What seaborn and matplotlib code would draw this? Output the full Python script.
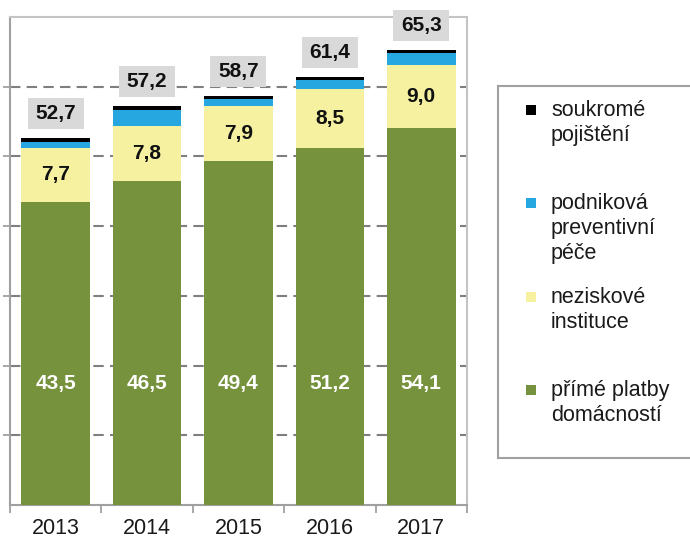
import matplotlib
matplotlib.use("Agg")
import matplotlib.pyplot as plt
import seaborn as sns
import numpy as np
import pandas as pd
from matplotlib.patches import Rectangle

# ---- data ----
years = ["2013", "2014", "2015", "2016", "2017"]
prime_platby = [43.5, 46.5, 49.4, 51.2, 54.1]
neziskove = [7.7, 7.8, 7.9, 8.5, 9.0]
podnikova = [0.9, 2.3, 0.9, 1.2, 1.8]
soukrome = [0.6, 0.6, 0.5, 0.5, 0.4]
totals = [52.7, 57.2, 58.7, 61.4, 65.3]
series_names = ["přímé platby\ndomácností", "neziskové\ninstituce",
                "podniková\npreventivní\npéče", "soukromé\npojištění"]
colors = ["#76923c", "#f5f1a0", "#27a7df", "#000000"]

sns.set_theme(style="white")
plt.rcParams['font.family'] = ['Liberation Sans', 'DejaVu Sans']

W, H = 690, 537
fig = plt.figure(figsize=(W / 100, H / 100), dpi=100)
ax = fig.add_axes([10 / W, (H - 505) / H, 457 / W, 488 / H])

layers = np.array([prime_platby, neziskove, podnikova, soukrome])
cum = np.cumsum(layers, axis=0)
for i in range(len(layers) - 1, -1, -1):
    df = pd.DataFrame({"year": years, "v": cum[i]})
    sns.barplot(data=df, x="year", y="v", color=colors[i], saturation=1,
                width=0.75, ax=ax, errorbar=None, linewidth=0, edgecolor="none",
                zorder=3)

ax.set_xlim(-0.5, len(years) - 0.5)
ax.set_ylim(0, 70)
ax.set_xlabel("")
ax.set_ylabel("")

# grid and ticks
ax.set_yticks(np.arange(10, 70, 10))
ax.set_yticklabels([])
ax.yaxis.grid(True, linestyle=(0, (5, 3)), color="#7f7f7f", linewidth=1.5, zorder=0)
ax.xaxis.grid(False)
ax.set_axisbelow(True)
ax.tick_params(axis="y", which="major", left=True, length=5, width=1.3,
               color="#a0a0a0", direction="out")
ax.set_xticks(range(len(years)))
ax.set_xticklabels(years, fontsize=15.5, color="#1a1a1a")
ax.tick_params(axis="x", which="major", length=0, pad=9)
ax.set_xticks(np.arange(-0.5, len(years), 1.0), minor=True)
ax.tick_params(axis="x", which="minor", bottom=True, length=6, width=1.3,
               color="#a0a0a0", direction="out")
for s in ["left", "bottom"]:
    ax.spines[s].set_color("#a0a0a0")
    ax.spines[s].set_linewidth(1.5)
for s in ["top", "right"]:
    ax.spines[s].set_color("#c4c4c4")
    ax.spines[s].set_linewidth(1.5)

# labels
px_per_unit = 488 / 70.0
px_per_cat = 457 / len(years)
box_w = 56 / px_per_cat
box_h = 31 / px_per_unit
gap = 9 / px_per_unit
for i, t in enumerate(totals):
    b = t + gap
    ax.add_patch(Rectangle((i - box_w / 2, b), box_w, box_h, facecolor="#d9d9d9",
                           edgecolor="none", zorder=4, clip_on=False))
    ax.text(i, b + box_h / 2, f"{t:.1f}".replace(".", ","), ha="center",
            va="center", fontsize=15, fontweight="bold", color="#111111", zorder=5)
for i, v in enumerate(neziskove):
    ax.text(i, prime_platby[i] + v / 2, f"{v:.1f}".replace(".", ","), ha="center",
            va="center", fontsize=15, fontweight="bold", color="#111111", zorder=5)
for i, v in enumerate(prime_platby):
    ax.text(i, 17.5, f"{v:.1f}".replace(".", ","), ha="center", va="center",
            fontsize=15, fontweight="bold", color="white", zorder=5)

# legend (manual, pixel coordinates)
lax = fig.add_axes([498 / W, (H - 458) / H, 200 / W, (458 - 86) / H])
lax.set_xlim(498, 698)
lax.set_ylim(458, 86)
lax.set_xticks([])
lax.set_yticks([])
lax.patch.set_alpha(0)
for s in lax.spines.values():
    s.set_color("#a0a0a0")
    s.set_linewidth(1.5)
entry_y = [390, 297, 203, 110]
for name, col, yc in zip(series_names, colors, entry_y):
    lax.scatter([531], [yc], marker="s", s=50, color=col, linewidths=0)
    for k, line in enumerate(name.split("\n")):
        lax.text(551, yc + 6 + 25 * k, line, ha="left", va="baseline",
                 fontsize=15.5, color="#1a1a1a")

fig.savefig("out.png", dpi=100)
